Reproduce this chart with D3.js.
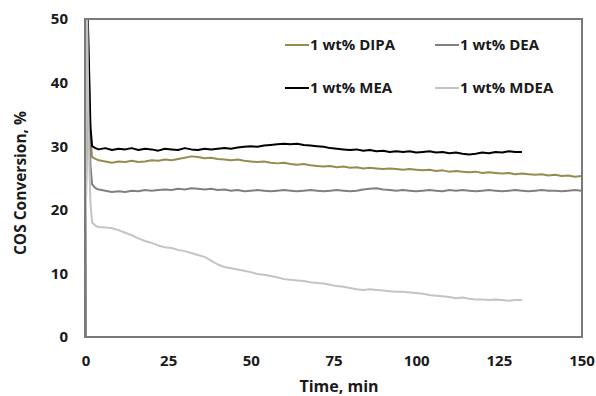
<!DOCTYPE html>
<html>
<head>
<meta charset="utf-8">
<script src="https://cdn.jsdelivr.net/npm/d3@7"></script>
<style>
  body { margin: 0; background: #fff; }
  text { font-family: "Open Sans", Lato, sans-serif; font-weight: bold; fill: #1a1a1a; }
</style>
</head>
<body>
<div id="chart"></div>
<script>
// time axis (min) shared by all series
const minutes = [0, 0.4, 1, 1.5, 2, 3, 4, 6, 8, 10, 12, 14, 16, 18, 20, 22, 24, 26, 28, 30, 32, 34, 36, 38, 40,
  42, 44, 46, 48, 50, 52, 54, 56, 58, 60, 62, 64, 66, 68, 70, 72, 74, 76, 78, 80, 82, 84, 86, 88, 90,
  92, 94, 96, 98, 100, 102, 104, 106, 108, 110, 112, 114, 116, 118, 120, 122, 124, 126, 128, 130, 132,
  134, 136, 138, 140, 142, 144, 146, 148, 150];

const dipa = [0, 56, 42, 31, 28.3, 28.0,
  27.8, 27.6, 27.4, 27.6, 27.5, 27.7, 27.5, 27.6, 27.8,
  27.7, 27.9, 27.8, 28.0, 28.2, 28.4, 28.3, 28.1, 28.2, 28.0, 27.9, 27.8, 27.9,
  27.7, 27.6, 27.5, 27.6, 27.4, 27.3, 27.4, 27.2, 27.1, 27.2, 27.0, 26.9,
  26.8, 26.9, 26.7, 26.8, 26.6, 26.7, 26.5, 26.6, 26.5, 26.4, 26.5, 26.4,
  26.3, 26.4, 26.3, 26.2, 26.3, 26.1, 26.2, 26.0, 26.1, 26.0, 25.9, 26.0,
  25.8, 25.9, 25.8, 25.7, 25.8, 25.6, 25.7, 25.6, 25.5, 25.6, 25.4, 25.5, 25.3, 25.4, 25.2, 25.3];

const dea = [0, 56, 38, 27, 24.0, 23.4,
  23.2, 23.0, 22.8, 22.9, 22.8, 23.0, 22.9, 23.1, 23.0,
  23.1, 23.2, 23.1, 23.3, 23.2, 23.4, 23.3, 23.2, 23.3, 23.1, 23.2, 23.0, 23.1,
  22.9, 23.0, 23.1, 23.0, 22.9, 23.0, 23.1, 23.0, 22.9, 23.0, 23.1, 23.0,
  22.9, 23.0, 23.1, 23.0, 22.9, 23.0, 23.2, 23.3, 23.4, 23.2, 23.1, 23.0,
  23.1, 23.0, 22.9, 23.0, 23.1, 23.0, 22.9, 23.1, 23.0, 23.1, 23.0, 22.9,
  23.0, 23.1, 23.0, 22.9, 23.0, 23.1, 23.0, 22.9, 23.0, 23.1, 23.0, 23.0, 22.9, 23.0, 23.1, 23.0];

const mea = [0, 56, 44, 33, 30.0, 29.7,
  29.5, 29.7, 29.4, 29.6, 29.5, 29.7, 29.4, 29.6, 29.5,
  29.3, 29.6, 29.5, 29.4, 29.7, 29.5, 29.4, 29.6, 29.5, 29.6, 29.7, 29.6, 29.8,
  29.9, 30.0, 29.9, 30.1, 30.2, 30.3, 30.4, 30.3, 30.4, 30.2, 30.1, 30.0,
  29.9, 29.7, 29.6, 29.5, 29.4, 29.5, 29.3, 29.4, 29.2, 29.3, 29.1, 29.2,
  29.1, 29.2, 29.0, 29.1, 29.2, 29.0, 29.1, 28.9, 29.0, 28.8, 28.7, 28.8,
  29.0, 28.9, 29.1, 29.0, 29.2, 29.1, 29.1];

const mdea = [0, 56, 30, 21, 18.0, 17.5,
  17.3, 17.2, 17.1, 16.8, 16.4, 16.0, 15.5, 15.1, 14.8,
  14.4, 14.1, 14.0, 13.7, 13.5, 13.2, 12.9, 12.6, 12.0, 11.4, 11.0, 10.8, 10.6,
  10.4, 10.2, 9.9, 9.8, 9.6, 9.4, 9.1, 9.0, 8.9, 8.8, 8.6, 8.5,
  8.4, 8.2, 8.0, 7.9, 7.7, 7.5, 7.4, 7.5, 7.4, 7.3, 7.2, 7.1,
  7.1, 7.0, 6.9, 6.8, 6.6, 6.5, 6.4, 6.3, 6.1, 6.2, 6.0, 5.9,
  5.9, 5.8, 5.9, 5.8, 5.7, 5.8, 5.8];

const seriesNames = ["1 wt% DIPA", "1 wt% DEA", "1 wt% MEA", "1 wt% MDEA"];
const seriesValues = [dipa, dea, mea, mdea];
const seriesColors = ["#968c52", "#808080", "#000000", "#c4c4c4"];

const xTicks = [0, 25, 50, 75, 100, 125, 150];
const yTicks = [0, 10, 20, 30, 40, 50];

const W = 596, H = 396;
const margin = {top: 19, right: 14, bottom: 59, left: 85};

const svg = d3.select("#chart").append("svg")
    .attr("width", W)
    .attr("height", H);

const x = d3.scaleLinear().domain([0, 150]).range([margin.left + 0.5, W - margin.right - 0.5]);
const y = d3.scaleLinear().domain([0, 50]).range([H - margin.bottom, margin.top]);

svg.append("clipPath").attr("id", "plot-clip")
    .append("rect")
    .attr("x", margin.left)
    .attr("y", margin.top)
    .attr("width", W - margin.left - margin.right)
    .attr("height", H - margin.top - margin.bottom);

// data lines
const line = d3.line()
    .x(d => x(d[0]))
    .y(d => y(d[1]));

svg.append("g")
    .attr("clip-path", "url(#plot-clip)")
    .selectAll("path")
    .data(seriesValues)
    .join("path")
    .attr("fill", "none")
    .attr("stroke", (d, i) => seriesColors[i])
    .attr("stroke-width", 2)
    .attr("stroke-linejoin", "round")
    .attr("d", vals => line(vals.map((v, i) => [minutes[i], v])));

// frame
svg.append("rect")
    .attr("x", margin.left)
    .attr("y", margin.top)
    .attr("width", W - margin.left - margin.right)
    .attr("height", H - margin.top - margin.bottom)
    .attr("fill", "none")
    .attr("stroke", "#7a7a7a")
    .attr("stroke-width", 2);

// axes
const xAxis = svg.append("g")
    .attr("transform", `translate(0,${H - margin.bottom})`)
    .call(d3.axisBottom(x).tickValues(xTicks).tickSize(0).tickPadding(18));
xAxis.select(".domain").remove();
xAxis.selectAll("text").attr("font-size", 15).attr("font-family", null);

const yAxis = svg.append("g")
    .attr("transform", `translate(${margin.left},0)`)
    .call(d3.axisLeft(y).tickValues(yTicks).tickSize(0).tickPadding(17));
yAxis.select(".domain").remove();
yAxis.selectAll("text").attr("font-size", 15).attr("font-family", null);

svg.append("text")
    .attr("x", 339)
    .attr("y", 392)
    .attr("text-anchor", "middle")
    .attr("font-size", 16)
    .text("Time, min");

svg.append("text")
    .attr("transform", "translate(26,183) rotate(-90)")
    .attr("text-anchor", "middle")
    .attr("font-size", 15.5)
    .text("COS Conversion, %");

// legend
const legendPos = [[285, 45], [435, 45], [285, 88], [435, 88]];
const legend = svg.append("g")
    .selectAll("g")
    .data(seriesNames)
    .join("g")
    .attr("transform", (d, i) => `translate(${legendPos[i][0]},${legendPos[i][1]})`);

legend.append("line")
    .attr("x1", 0).attr("x2", 24)
    .attr("stroke", (d, i) => seriesColors[i])
    .attr("stroke-width", 2);

legend.append("text")
    .attr("x", 25)
    .attr("dy", "0.35em")
    .attr("font-size", 15)
    .text(d => d);
</script>
</body>
</html>
